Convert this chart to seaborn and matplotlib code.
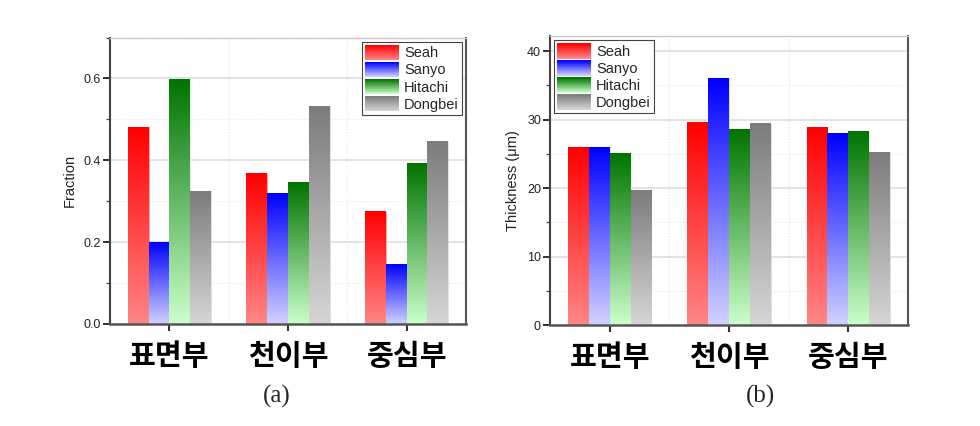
import numpy as np
import pandas as pd
import matplotlib
matplotlib.use('Agg')
import matplotlib.pyplot as plt
import seaborn as sns
from matplotlib.legend_handler import HandlerBase
from matplotlib.patches import Rectangle
from matplotlib.ticker import MultipleLocator, FixedLocator
import matplotlib.colors as mcolors

# ---------------- data ----------------
regions = ['표면부', '천이부', '중심부']
companies = ['Seah', 'Sanyo', 'Hitachi', 'Dongbei']

fraction_seah = [0.481, 0.367, 0.274]
fraction_sanyo = [0.200, 0.319, 0.146]
fraction_hitachi = [0.597, 0.345, 0.391]
fraction_dongbei = [0.324, 0.532, 0.447]

thick_seah = [25.9, 29.6, 28.9]
thick_sanyo = [25.9, 36.0, 27.9]
thick_hitachi = [25.1, 28.5, 28.2]
thick_dongbei = [19.6, 29.4, 25.2]

panel_labels = ['(a)', '(b)']
ylabels = ['Fraction', 'Thickness (μm)']

# ---------------- styles ----------------
top_colors = ['#ff0000', '#0000ff', '#007400', '#7c7c7c']
bottom_colors = ['#ff8686', '#d2d2ff', '#ccffcc', '#d6d6d6']

fraction = {'Seah': fraction_seah, 'Sanyo': fraction_sanyo,
            'Hitachi': fraction_hitachi, 'Dongbei': fraction_dongbei}
thickness = {'Seah': thick_seah, 'Sanyo': thick_sanyo,
             'Hitachi': thick_hitachi, 'Dongbei': thick_dongbei}

rows = []
for c in companies:
    for i, r in enumerate(regions):
        rows.append({'region': r, 'company': c,
                     'fraction': fraction[c][i], 'thickness': thickness[c][i]})
df = pd.DataFrame(rows)

sns.set_style('white')
plt.rcParams['font.family'] = ['Liberation Sans', 'Noto Sans CJK KR', 'DejaVu Sans']


class GradKey:
    def __init__(self, top, bottom):
        self.top = np.array(mcolors.to_rgb(top))
        self.bottom = np.array(mcolors.to_rgb(bottom))


class GradHandler(HandlerBase):
    def create_artists(self, legend, orig_handle, xdescent, ydescent,
                       width, height, fontsize, trans):
        n = 24
        arts = []
        for i in range(n):
            t = i / (n - 1)
            col = orig_handle.bottom * (1 - t) + orig_handle.top * t
            r = Rectangle((-xdescent, -ydescent + height * i / n), width,
                          height / n * 1.05, facecolor=col, edgecolor='none',
                          transform=trans)
            arts.append(r)
        return arts


def draw_panel(ax, ycol, ylim, major, minor, ylabel, legend_loc):
    sns.barplot(data=df, x='region', y=ycol, hue='company', order=regions,
                hue_order=companies, palette=top_colors, width=0.7,
                saturation=1, ax=ax, legend=False, zorder=3, errorbar=None)
    tt = np.linspace(0, 1, 256)[:, None, None]
    for container, top, bot in zip(ax.containers, top_colors, bottom_colors):
        tc = np.array(mcolors.to_rgb(top))[None, None, :]
        bc = np.array(mcolors.to_rgb(bot))[None, None, :]
        grad = bc * (1 - tt) + tc * tt
        edge = mcolors.to_rgba(bot, 0.9)
        for bar in container:
            x, w, h = bar.get_x(), bar.get_width(), bar.get_height()
            ax.imshow(grad, extent=[x, x + w, 0, h], origin='lower',
                      aspect='auto', zorder=3, interpolation='bilinear')
            bar.set_facecolor('none')
            bar.set_edgecolor(edge)
            bar.set_linewidth(0.6)
    ax.set_xlim(-0.5, 2.5)
    ax.set_ylim(*ylim)
    ax.yaxis.set_major_locator(MultipleLocator(major))
    ax.yaxis.set_minor_locator(MultipleLocator(minor))
    ax.xaxis.set_minor_locator(FixedLocator([0.5, 1.5]))
    ax.set_axisbelow(True)
    ax.grid(which='major', axis='y', color='#e0e0e0', lw=1.3, ls='-', zorder=0)
    ax.grid(which='minor', axis='y', color='#e4e4e4', lw=0.8, ls=':', zorder=0)
    ax.grid(which='minor', axis='x', color='#e4e4e4', lw=0.8, ls=':', zorder=0)
    ax.tick_params(axis='x', which='major', direction='out', length=5,
                   width=1.5, color='#333333', pad=7, bottom=True)
    ax.tick_params(axis='x', which='minor', length=0)
    ax.tick_params(axis='y', which='major', direction='out', length=5,
                   width=1.3, color='#222222', labelsize=9, pad=1.5,
                   labelcolor='#222222', left=True)
    ax.tick_params(axis='y', which='minor', direction='out', length=3,
                   width=0.9, color='#444444', left=True)
    for lbl in ax.get_xticklabels():
        lbl.set_fontfamily(['Noto Sans CJK KR'])
        lbl.set_fontweight('bold')
        lbl.set_fontsize(21)
        lbl.set_color('black')
    ax.set_xlabel('')
    ax.set_ylabel(ylabel, fontsize=10.5, color='#222222', labelpad=5)
    ax.spines['left'].set_color('#444444')
    ax.spines['left'].set_linewidth(1.5)
    ax.spines['bottom'].set_color('#555555')
    ax.spines['bottom'].set_linewidth(1.8)
    ax.spines['right'].set_color('#555555')
    ax.spines['right'].set_linewidth(1.5)
    ax.spines['top'].set_color('#c8c8c8')
    ax.spines['top'].set_linewidth(1.0)
    for s in ax.spines.values():
        s.set_visible(True)
        s.set_zorder(4)

    handles = [GradKey(t, b) for t, b in zip(top_colors, bottom_colors)]
    leg = ax.legend(handles, companies, handler_map={GradKey: GradHandler()},
                    loc=legend_loc, fontsize=10.5, frameon=True, fancybox=False,
                    edgecolor='#444444', framealpha=1, borderpad=0.2,
                    labelspacing=0.1, handlelength=2.3, handleheight=1.25,
                    handletextpad=0.35, borderaxespad=0.3)
    leg.get_frame().set_linewidth(0.8)
    leg.set_zorder(6)


fig = plt.figure(figsize=(9.8, 4.26), dpi=100)
ax1 = fig.add_axes([110 / 980, (426 - 324) / 426, 356 / 980, (324 - 37.5) / 426])
ax2 = fig.add_axes([550 / 980, (426 - 325) / 426, 358 / 980, (325 - 36) / 426])

draw_panel(ax1, 'fraction', (0, 0.70), 0.2, 0.1, ylabels[0], 'upper right')
draw_panel(ax2, 'thickness', (0, 42.2), 10, 5, ylabels[1], 'upper left')
ax2.yaxis.set_major_formatter(matplotlib.ticker.FormatStrFormatter('%d'))

fig.text(277 / 980, 1 - 396 / 426, panel_labels[0], family='Liberation Serif',
         fontsize=18, ha='center', va='center')
fig.text(760 / 980, 1 - 396 / 426, panel_labels[1], family='Liberation Serif',
         fontsize=18, ha='center', va='center')

fig.savefig('out.png', dpi=100)
